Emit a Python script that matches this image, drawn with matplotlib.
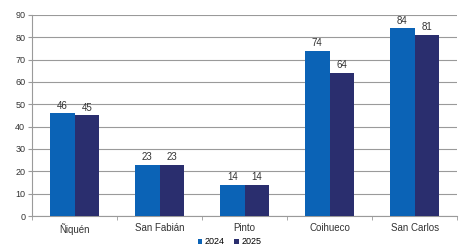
import matplotlib
matplotlib.use("Agg")
import matplotlib.pyplot as plt
import numpy as np

plt.rcParams["font.family"] = ["Liberation Sans", "DejaVu Sans"]

comunas = ["Ñiquén", "San Fabián", "Pinto", "Coihueco", "San Carlos"]
v2024 = [46, 23, 14, 74, 84]
v2025 = [45, 23, 14, 64, 81]
yticks = list(range(0, 91, 10))

BLUE, NAVY, GRID = "#0b63b6", "#2a2e6e", "#9a9a9a"

fig = plt.figure(figsize=(4.59, 2.48), dpi=100)
ax = fig.add_axes([0.070, 0.129, 0.926, 0.811])

x = np.arange(len(comunas))
w = 0.29
b1 = ax.bar(x - w / 2, v2024, w, color=BLUE, label="2024", zorder=3)
b2 = ax.bar(x + w / 2, v2025, w, color=NAVY, label="2025", zorder=3)
for bars in (b1, b2):
    for r in bars:
        ax.text(r.get_x() + r.get_width() / 2, r.get_height() + 1.2,
                f"{int(r.get_height())}", ha="center", va="bottom",
                fontsize=7, color="#333333")

ax.set_xlim(-0.5, len(comunas) - 0.5)
ax.set_ylim(0, 90)
ax.set_yticks(yticks)
ax.set_xticks(x)
ax.set_xticklabels(comunas)
ax.set_xticks(np.arange(-0.5, len(comunas)), minor=True)
ax.tick_params(axis="x", which="major", length=0, labelsize=7,
               colors="#333333", pad=5)
ax.tick_params(axis="x", which="minor", length=3, color=GRID)
ax.tick_params(axis="y", length=3, color=GRID, labelsize=6.5,
               colors="#333333", pad=2)
ax.yaxis.grid(True, color=GRID, lw=0.8, zorder=0)
for s in ("top", "right"):
    ax.spines[s].set_visible(False)
for s in ("left", "bottom"):
    ax.spines[s].set_color(GRID)

fig.legend(handles=[b1, b2], loc="center", bbox_to_anchor=(0.5, 0.025),
           ncol=2, frameon=False, fontsize=6.5, handlelength=0.5,
           handleheight=0.5, handletextpad=0.3, columnspacing=1.0,
           borderpad=0, borderaxespad=0)

fig.savefig("out.png", dpi=100)
